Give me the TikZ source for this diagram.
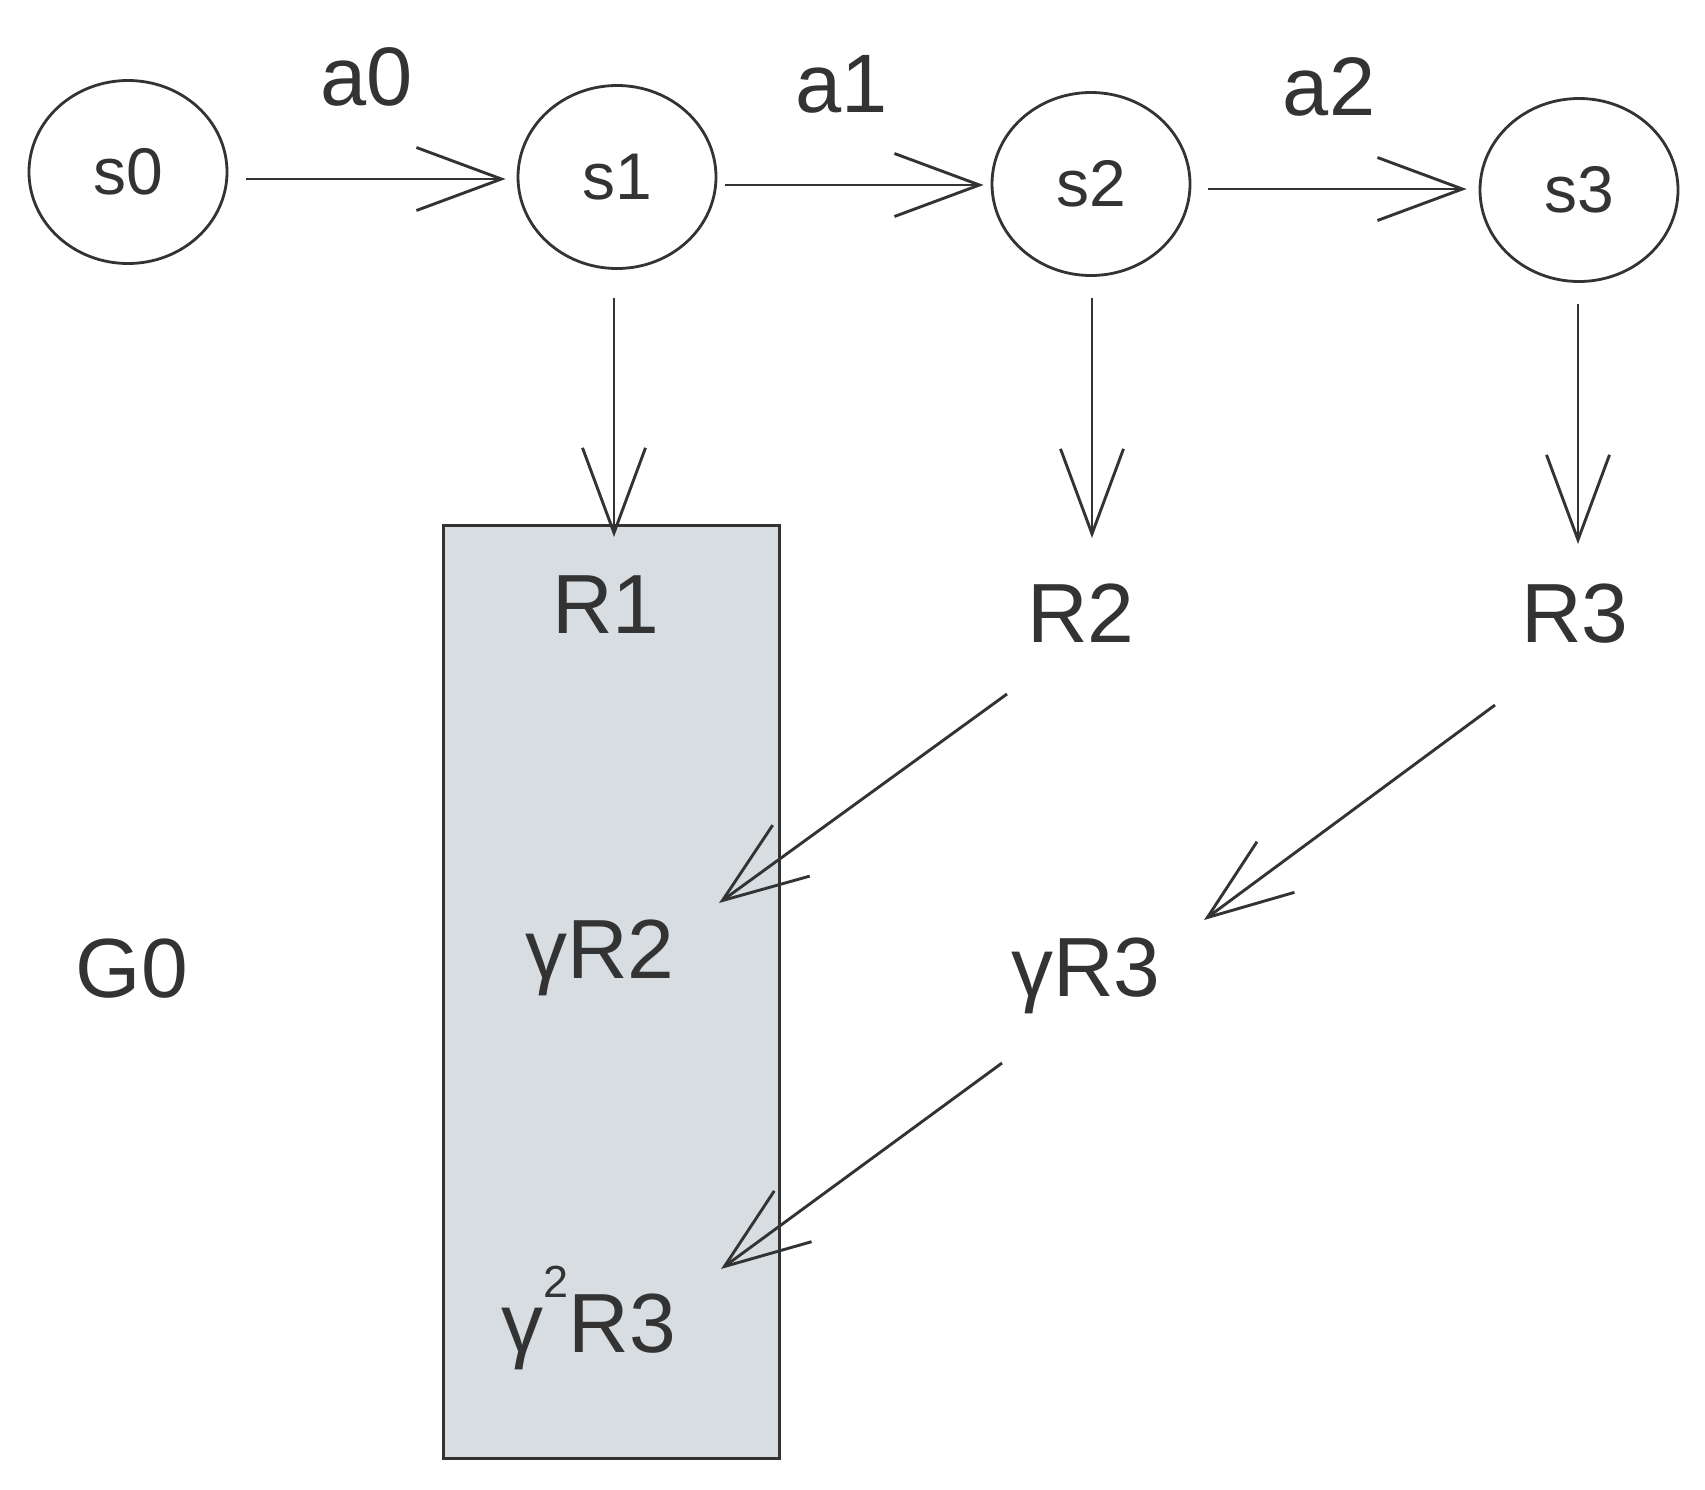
\documentclass[tikz,border=0pt]{standalone}
\usepackage{fontspec}
\setmainfont{Liberation Sans}
\usetikzlibrary{arrows.meta,shapes.geometric,calc}
\definecolor{ink}{HTML}{333333}
\definecolor{boxfill}{HTML}{D8DDE2}
\newcommand\biglab{\fontsize{84pt}{84pt}\selectfont}
\newcommand\statelab{\fontsize{66pt}{66pt}\selectfont}
\newcommand\actlab{\fontsize{83pt}{83pt}\selectfont}
\begin{document}
\begin{tikzpicture}[x=1pt,y=-1pt,
  state/.style={ellipse,draw=ink,line width=2.8pt,minimum width=198pt,minimum height=183pt,inner sep=0pt,text=ink,font=\statelab},
  lab/.style={anchor=base,inner sep=0pt,text=ink,font=\biglab},
  act/.style={anchor=base,inner sep=0pt,text=ink,font=\actlab},
  arr/.style={draw=ink,line width=2.9pt,-{Straight Barb[length=85pt,width=63pt]}},
  gbox/.style={draw=ink,fill=boxfill,line width=3pt,inner sep=0pt}]
\useasboundingbox (0,0) rectangle (1705,1489);
\node[gbox,minimum width=336pt,minimum height=933pt] (box) at (611,991.5) {};
\node[state] (s0) at (128,172) {s0};
\node[state] (s1) at (617,177) {s1};
\node[state] (s2) at (1091,184) {s2};
\node[state] (s3) at (1579,190) {s3};
\node[act] (a0) at (367,105) {a0};
\node[act] (a1) at (842,112) {a1};
\node[act] (a2) at (1329,115) {a2};
\node[lab] (R1) at (606,633) {R1};
\node[lab] (R2) at (1081,642) {R2};
\node[lab] (R3) at (1575,642) {R3};
\node[lab] (G0) at (132,997) {G0};
\node[lab] (gR2) at (600,978) {γR2};
\node[lab] (gR3) at (1086,996) {γR3};
\node[lab] (g2R3) at (589,1352) {γ\raisebox{55pt}{\fontsize{45pt}{45pt}\selectfont 2}R3};
\draw[arr] ($(s0.east)+(18,7)$) -- ($(s1.west)+(-11,2)$);
\draw[arr] ($(s1.east)+(8,8)$) -- ($(s2.west)+(-7,1)$);
\draw[arr] ($(s2.east)+(17,5)$) -- ($(s3.west)+(-12,-1)$);
\draw[arr] ($(s1.south)+(-3,28)$) -- ($(R1.base)+(8,-96)$);
\draw[arr] ($(s2.south)+(1,21)$) -- ($(R2.base)+(11,-104)$);
\draw[arr] ($(s3.south)+(-1,21)$) -- ($(R3.base)+(3,-98)$);
\draw[arr] ($(R2.base)+(-74,52)$) -- ($(gR2.base)+(119,-75)$);
\draw[arr] ($(R3.base)+(-80,63)$) -- ($(gR3.base)+(118,-76)$);
\draw[arr] ($(gR3.base)+(-84,67)$) -- ($(g2R3.base)+(132,-83)$);
\end{tikzpicture}
\end{document}
